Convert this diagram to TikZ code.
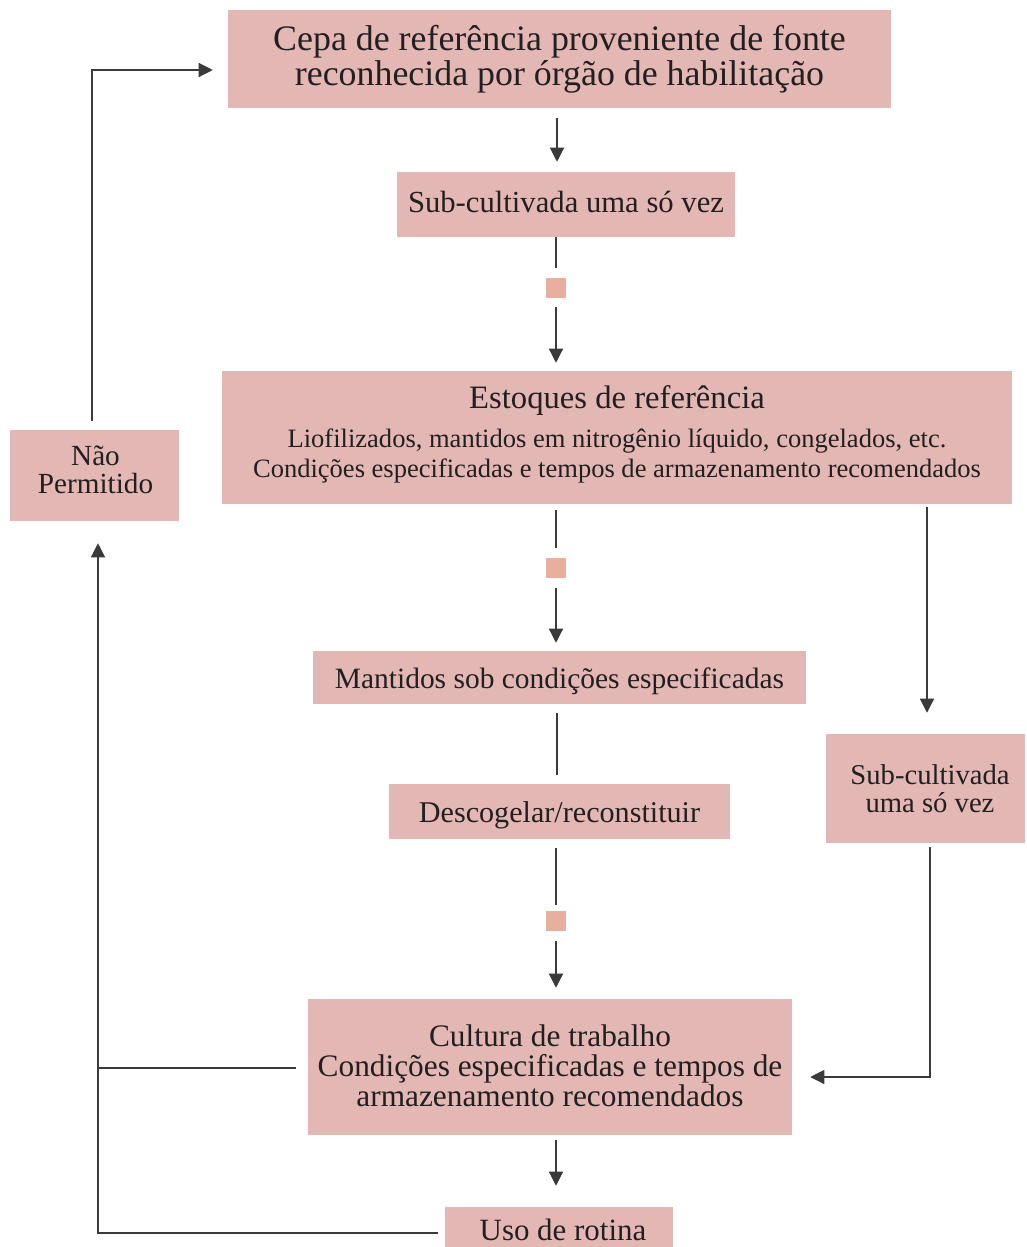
\documentclass[tikz,border=0pt]{standalone}
\usepackage{fontspec}
\setmainfont{Liberation Serif}
\usetikzlibrary{arrows.meta}
\definecolor{boxfill}{HTML}{E3B7B4}
\definecolor{sqfill}{HTML}{E8AE9E}
\definecolor{linec}{HTML}{3A3A3A}
\definecolor{txtc}{HTML}{231F20}
\tikzset{
  box/.style={fill=boxfill, draw=none, inner sep=0pt},
  lbl/.style={inner sep=0pt, align=center, text=txtc},
  sq/.style={fill=sqfill, draw=none, minimum size=15pt, inner sep=0pt},
  conn/.style={draw=linec, line width=0.9pt},
  arr/.style={conn, -{Triangle[length=10.5pt,width=10.5pt]}},
}
\begin{document}
\begin{tikzpicture}[x=0.75pt,y=-0.75pt]
\clip (0,0) rectangle (1026,1247);
\fill[white] (0,0) rectangle (1026,1247);
% boxes
\node[box, minimum width=497.25pt, minimum height=73.5pt] (b1) at (559.5,59) {};
\node[box, minimum width=253.5pt, minimum height=48.75pt] (b2) at (566,204.5) {};
\node[box, minimum width=592.5pt, minimum height=99.75pt] (b3) at (617,437.5) {};
\node[box, minimum width=369.75pt, minimum height=39.75pt] (b4) at (559.5,677.5) {};
\node[box, minimum width=255.75pt, minimum height=41.25pt] (b5) at (559.5,811.5) {};
\node[box, minimum width=363pt, minimum height=102pt] (b6) at (550,1067) {};
\node[box, minimum width=171pt, minimum height=41.25pt] (b7) at (559,1234.5) {};
\node[box, minimum width=149.25pt, minimum height=81.75pt] (b8) at (925.5,788.5) {};
\node[box, minimum width=126.75pt, minimum height=68.25pt] (bn) at (94.5,475.5) {};
% texts
\node[lbl, font=\fontsize{26.9}{26.25}\selectfont] (t1) at (559.5,59) {Cepa de referência proveniente de fonte\\reconhecida por órgão de habilitação};
\node[lbl, font=\fontsize{23}{24}\selectfont] (t2) at (566,201.5) {Sub-cultivada uma só vez};
\node[lbl, font=\fontsize{24.5}{25}\selectfont] (t3a) at (617,400) {Estoques de referência};
\node[lbl, font=\fontsize{19.9}{22.5}\selectfont] (t3b) at (617,456) {Liofilizados, mantidos em nitrogênio líquido, congelados, etc.\\Condições especificadas e tempos de armazenamento recomendados};
\node[lbl, font=\fontsize{22.1}{24}\selectfont] (t4) at (559.5,681) {Mantidos sob condições especificadas};
\node[lbl, font=\fontsize{22.6}{24}\selectfont] (t5) at (559.5,815.5) {Descogelar/reconstituir};
\node[lbl, font=\fontsize{23.5}{22.5}\selectfont] (t6) at (550,1066) {Cultura de trabalho\\Condições especificadas e tempos de\\armazenamento recomendados};
\node[lbl, font=\fontsize{23.2}{24}\selectfont] (t7) at (563,1230) {Uso de rotina};
\node[lbl, font=\fontsize{21.5}{21}\selectfont] (t8) at (930,788.5) {Sub-cultivada\\uma só vez};
\node[lbl, font=\fontsize{21.9}{21}\selectfont] (tn) at (95.5,470) {Não\\Permitido};
% squares
\node[sq] (s1) at (556,288) {};
\node[sq] (s2) at (556,568) {};
\node[sq] (s3) at (556,921) {};
% helper coordinates
\coordinate (cx) at (557,0);
\coordinate (cr) at (927,0);
\coordinate (c11) at (930,1077);
\coordinate (c12) at (98,1068);
\coordinate (c13) at (98,1233);
\coordinate (c14) at (92,70);
% connectors
\draw[arr, shorten <=7.5pt, shorten >=7.5pt] (b1.south -| cx) -- (b2.north -| cx);
\draw[conn, shorten >=7.5pt] (b2.south -| s1) -- (s1.north);
\draw[arr, shorten <=6.75pt, shorten >=6pt] (s1.south) -- (b3.north -| s1);
\draw[conn, shorten <=4.5pt, shorten >=7.5pt] (b3.south -| s2) -- (s2.north);
\draw[arr, shorten <=7.5pt, shorten >=6pt] (s2.south) -- (b4.north -| s2);
\draw[conn, shorten <=6.75pt, shorten >=6.75pt] (b4.south -| cx) -- (b5.north -| cx);
\draw[conn, shorten <=6.75pt, shorten >=4.5pt] (b5.south -| s3) -- (s3.north);
\draw[arr, shorten <=7.5pt, shorten >=8.25pt] (s3.south) -- (b6.north -| s3);
\draw[arr, shorten <=3.75pt, shorten >=15.75pt] (b6.south -| s3) -- (b7.north -| s3);
\draw[arr, shorten <=2.25pt, shorten >=15.75pt] (b3.south -| cr) -- (b8.north -| cr);
\draw[arr, shorten <=3pt, shorten >=13.5pt] (b8.south -| c11) -- (c11) -- (c11 -| b6.east);
\draw[arr, shorten <=9pt, shorten >=16.5pt] (b6.west |- c12) -- (c12) -- (c12 |- bn.south);
\draw[conn, shorten <=5.25pt] (b7.west |- c13) -- (c13) -- (c12);
\draw[arr, shorten <=6.75pt, shorten >=11.25pt] (bn.north -| c14) -- (c14) -- (c14 -| b1.west);
\end{tikzpicture}
\end{document}
